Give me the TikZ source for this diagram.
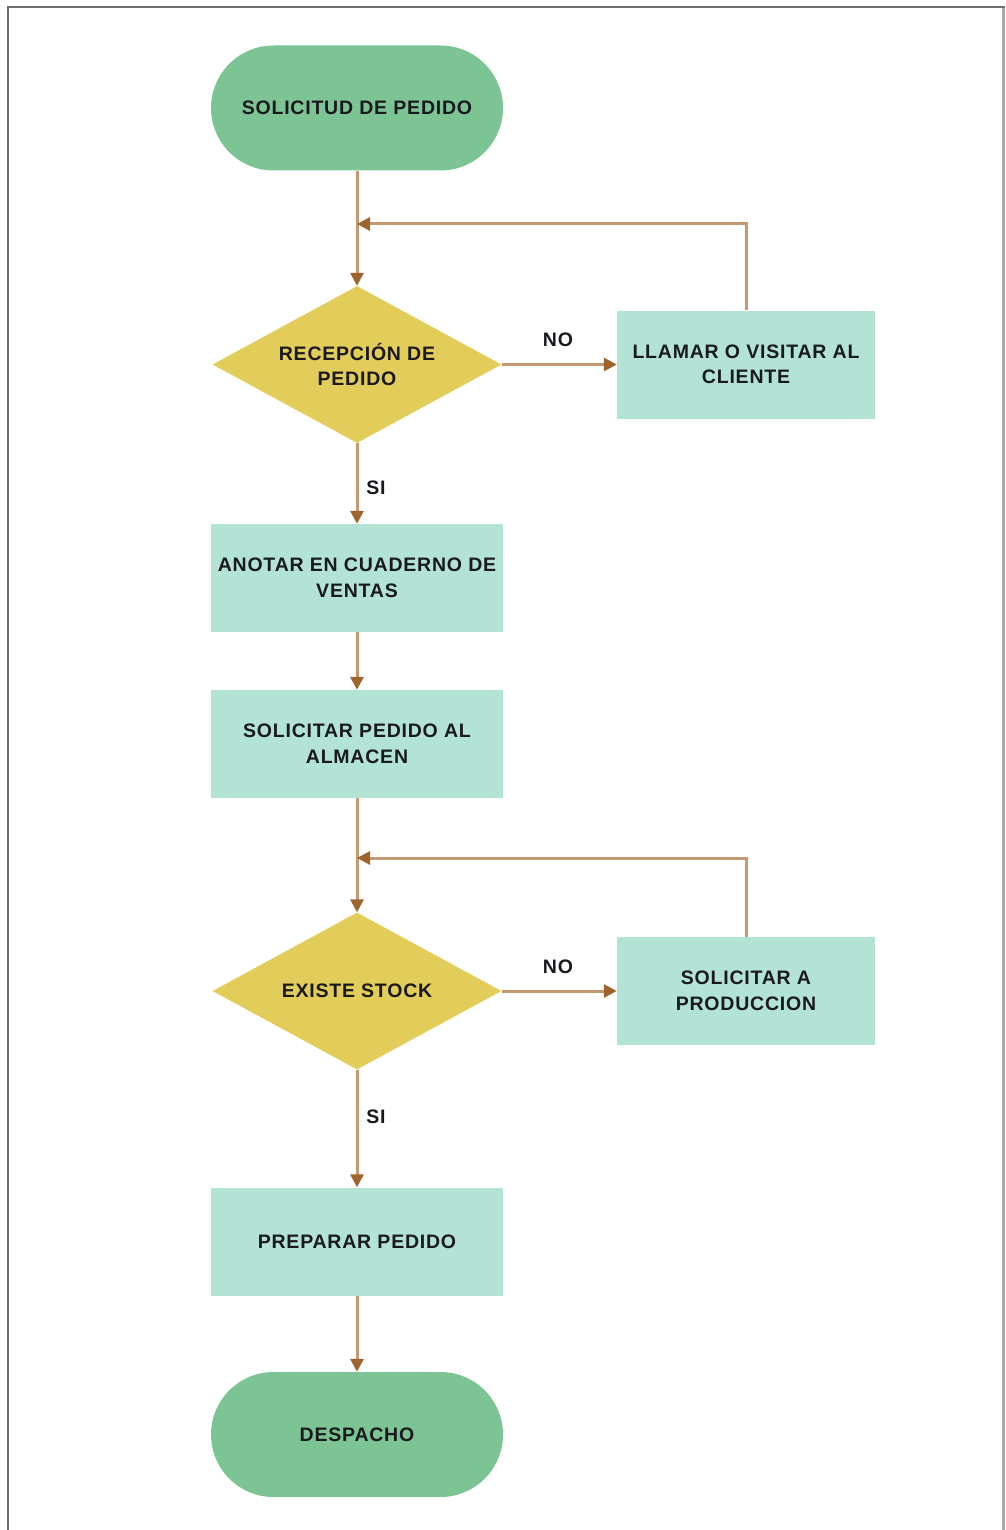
\documentclass[tikz,border=0pt]{standalone}
\usepackage{fontspec}
\setmainfont{Liberation Sans}[LetterSpace=4]
\usetikzlibrary{arrows.meta,shapes.geometric,shapes.misc}
\definecolor{termgreen}{RGB}{125,196,149}
\definecolor{decyellow}{RGB}{227,205,90}
\definecolor{procmint}{RGB}{178,227,213}
\definecolor{linetan}{RGB}{196,152,112}
\definecolor{headbrown}{RGB}{158,100,46}
\definecolor{framedark}{RGB}{110,110,110}
\definecolor{framelight}{RGB}{170,170,170}
\definecolor{txt}{RGB}{25,25,30}
\begin{document}
\begin{tikzpicture}[x=1pt,y=-1pt,
  every node/.style={font=\fontsize{19.5}{25.5}\selectfont\bfseries, text=txt},
  termbox/.style={rounded rectangle, fill=termgreen, minimum width=292pt, minimum height=125pt, inner sep=0pt},
  decbox/.style={diamond, fill=decyellow, aspect=1.84, minimum width=289pt, minimum height=157pt, inner sep=0pt, align=center},
  procbox/.style={rectangle, fill=procmint, minimum height=108pt, inner sep=0pt, align=center},
  mainproc/.style={procbox, minimum width=292pt},
  sideproc/.style={procbox, minimum width=258pt},
  flow/.style={draw=linetan, line width=3pt, -{Triangle[length=13pt,width=13pt,color=headbrown]}},
  lbl/.style={inner sep=0pt}
]
\useasboundingbox (0,0) rectangle (1005,1530);
% frame
\draw[framedark, line width=2.8pt] (8,1530) -- (8,7) -- (1005,7);
\draw[framelight, line width=2.4pt] (1003.5,8) -- (1003.5,1530);

% nodes
\node[termbox] (start) at (357,108) {SOLICITUD DE PEDIDO};
\node[decbox] (d1) at (357,364.5) {RECEPCIÓN DE\\PEDIDO};
\node[sideproc] (call) at (746,364.5) {LLAMAR O VISITAR AL\\CLIENTE};
\node[mainproc] (note) at (357,578) {ANOTAR EN CUADERNO DE\\VENTAS};
\node[mainproc] (store) at (357,744) {SOLICITAR PEDIDO AL\\ALMACEN};
\node[decbox] (d2) at (357,991) {EXISTE STOCK};
\node[sideproc] (prod) at (746,991) {SOLICITAR A\\PRODUCCION};
\node[mainproc] (prep) at (357,1241.5) {PREPARAR PEDIDO};
\node[termbox] (desp) at (357,1434.5) {DESPACHO};

\coordinate (j1) at (357,224);
\coordinate (j2) at (357,858);

% connectors
\draw[flow] (start.south) -- (d1.north);
\draw[flow] (call.north) |- (j1);
\draw[flow] (d1.east) -- (call.west);
\draw[flow] (d1.south) -- (note.north);
\draw[flow] (note.south) -- (store.north);
\draw[flow] (store.south) -- (d2.north);
\draw[flow] (prod.north) |- (j2);
\draw[flow] (d2.east) -- (prod.west);
\draw[flow] (d2.south) -- (prep.north);
\draw[flow] (prep.south) -- (desp.north);

% labels
\node[lbl] (no1) at (558,340) {NO};
\node[lbl] (no2) at (558,967) {NO};
\node[lbl] (si1) at (376,488) {SI};
\node[lbl] (si2) at (376,1117) {SI};
\end{tikzpicture}
\end{document}
